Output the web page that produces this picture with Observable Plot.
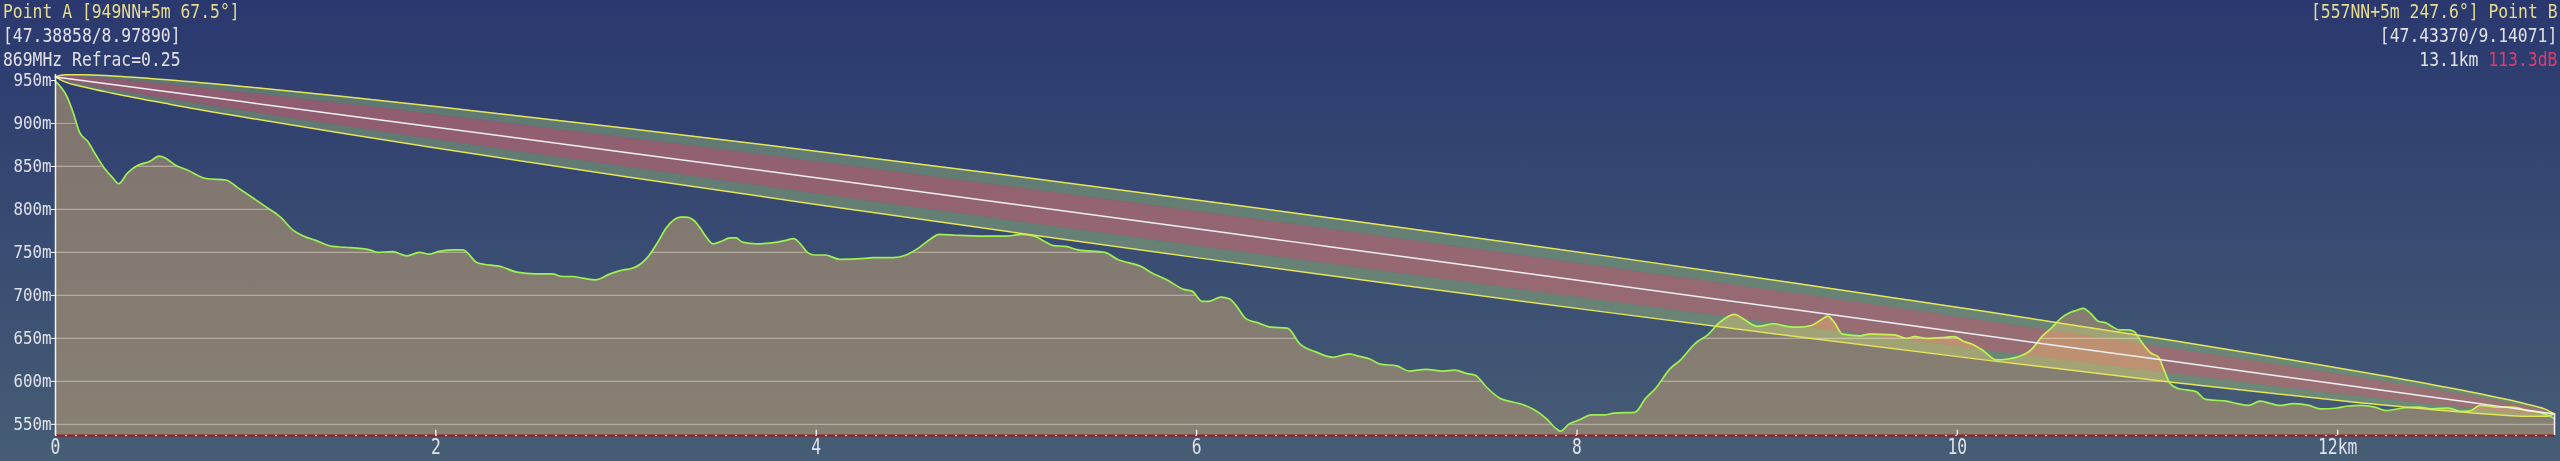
<!DOCTYPE html>
<html><head><meta charset="utf-8">
<script src="https://cdn.jsdelivr.net/npm/d3@7"></script>
<script src="https://cdn.jsdelivr.net/npm/@observablehq/plot@0.6"></script>
<style>
html,body{margin:0;padding:0;}
body{width:2560px;height:461px;overflow:hidden;position:relative;
  background:linear-gradient(to bottom,#2a386f 0px,#465d75 461px);
  font-family:"DejaVu Sans Mono",monospace;}
#chart{position:absolute;left:0;top:0;}
.t{position:absolute;font-size:19.5px;line-height:1;white-space:pre;}
.l{left:3px;transform-origin:left top;transform:scaleX(0.84);}
.r{right:3px;transform-origin:right top;transform:scaleX(0.84);}
.k{color:#e6dc8e}.g{color:#e2e2e6}.p{color:#e23a6a}
</style></head>
<body>
<div id="chart"></div>
<script>
// ---- data ----
const distKm = [0,0.061,0.094,0.126,0.170,0.213,0.257,0.300,0.333,0.377,0.431,0.497,0.545,0.584,0.627,0.693,0.791,0.900,0.954,1.041,1.107,1.183,1.249,1.303,1.368,1.456,1.521,1.652,1.695,1.772,1.848,1.913,1.968,2.011,2.088,2.142,2.218,2.349,2.426,2.524,2.611,2.665,2.720,2.774,2.840,2.916,2.992,3.025,3.112,3.167,3.210,3.287,3.319,3.352,3.371,3.391,3.415,3.458,3.502,3.546,3.578,3.611,3.687,3.796,3.840,3.883,3.916,3.960,3.992,4.047,4.123,4.254,4.298,4.406,4.472,4.537,4.603,4.646,4.733,4.864,4.995,5.082,5.148,5.191,5.246,5.311,5.376,5.518,5.583,5.714,5.758,5.845,5.932,5.976,6.030,6.063,6.128,6.172,6.205,6.259,6.324,6.390,6.477,6.542,6.630,6.717,6.802,6.856,6.911,6.965,7.052,7.118,7.205,7.292,7.357,7.423,7.466,7.521,7.597,7.662,7.728,7.782,7.837,7.891,7.913,7.957,8.011,8.077,8.142,8.196,8.305,8.360,8.414,8.491,8.545,8.621,8.687,8.752,8.829,8.872,8.948,9.036,9.101,9.166,9.232,9.286,9.319,9.352,9.395,9.493,9.537,9.668,9.733,9.777,9.842,9.929,9.984,10.038,10.068,10.128,10.207,10.266,10.325,10.385,10.444,10.494,10.543,10.593,10.632,10.662,10.701,10.741,10.781,10.820,10.850,10.899,10.929,10.968,11.018,11.058,11.087,11.117,11.156,11.206,11.255,11.305,11.354,11.414,11.473,11.532,11.592,11.651,11.691,11.770,11.849,11.908,11.997,12.047,12.126,12.195,12.254,12.343,12.423,12.502,12.581,12.650,12.700,12.749,12.838,12.917,12.996,13.075,13.140];
const elevM = [949,931,912,890,879,863,848,837,830,842,851,856,862,859,852,846,836,834,826,813,803,791,776,769,764,757,756,753,750,751,746,750,748,751,753,753,738,733,727,725,725,722,722,720,718,725,730,731,744,762,778,791,791,788,784,778,770,760,763,767,767,762,760,762,764,766,760,749,747,747,742,743,744,744,747,755,766,771,770,769,769,771,769,764,758,757,753,750,742,733,727,718,707,705,693,693,698,696,689,673,668,663,662,644,634,628,632,629,626,620,618,612,614,612,613,609,607,594,580,576,572,566,557,545,542,550,555,561,561,563,564,580,592,615,625,644,654,669,678,673,664,667,664,663,665,672,676,669,655,653,655,654,650,652,650,651,652,646,644,637,625,626,629,636,652,662,673,680,683,685,679,670,668,663,660,660,658,646,633,628,613,598,592,590,588,579,578,577,574,572,577,574,572,574,572,568,569,571,572,570,566,569,570,568,569,565,566,572,570,570,566,563,557];

// line of sight and first Fresnel zone radius along the path
const fresKm = [0,0.05,0.15,0.3,0.6,1,1.5,2,3,4,5,6,6.57,7.14,8.14,9.14,10.14,11.14,11.64,12.14,12.54,12.84,12.99,13.09,13.14];
const losM   = [954,952.55,949.64,945.28,936.54,924.88,910.28,895.64,866.29,836.82,807.23,777.52,760.53,743.51,713.55,683.48,653.28,622.97,607.77,592.53,580.33,571.17,566.58,563.53,562];
const fresR  = [0,4.15,7.16,10.07,14.07,17.87,21.43,24.21,28.29,31.02,32.72,33.57,33.7,33.57,32.72,31.02,28.29,24.21,21.43,17.87,14.07,10.07,7.16,4.15,0];
const clearance = 0.6;

const yTicks = [550,600,650,700,750,800,850,900,950];
const xTicks = [0,2,4,6,8,10,12];
const xTickLabels = ["0","2","4","6","8","10","12km"];

const headLeft  = ["Point A [949NN+5m 67.5°]","[47.38858/8.97890]","869MHz Refrac=0.25"];
const headRight = ["[557NN+5m 247.6°] Point B","[47.43370/9.14071]","13.1km "];
const lossLabel = "113.3dB";

const yMin = 537, yMax = 957, xMax = 13.14;

// ---- build ----
const terrain = distKm.map((d,i)=>({d, e: elevM[i]}));
const fres = fresKm.map((d,i)=>({d, los: losM[i], r: fresR[i]}));
const xLab = new Map(xTicks.map((t,i)=>[t, xTickLabels[i]]));
const curve = "monotone-x";

const plot = Plot.plot({
  width: 2560, height: 461,
  marginLeft: 55, marginRight: 6, marginTop: 74, marginBottom: 26,
  style: {background: "none", fontFamily: "DejaVu Sans Mono", fontSize: "18px", color: "#dfe2ea", overflow: "visible"},
  x: {domain: [0, xMax]},
  y: {domain: [yMin, yMax]},
  marks: [
    Plot.areaY(terrain, {x: "d", y1: yMin, y2: "e", fill: "url(#terrGrad)", curve}),
    Plot.ruleY(yTicks, {stroke: "#b3ab9f", strokeWidth: 1.2}),
    Plot.areaY(terrain, {x: "d", y1: "e", y2: yMax, fill: "url(#skyGrad)", curve}),
    Plot.line(terrain, {x: "d", y: "e", stroke: "#9cf052", strokeWidth: 1.7, curve}),
    Plot.areaY(fres, {x: "d", y1: d => d.los + clearance * d.r, y2: d => d.los + d.r, fill: "rgb(58,75,5)", mixBlendMode: "screen", curve}),
    Plot.areaY(fres, {x: "d", y1: d => d.los - d.r, y2: d => d.los - clearance * d.r, fill: "rgb(58,75,5)", mixBlendMode: "screen", curve}),
    Plot.areaY(fres, {x: "d", y1: d => d.los - clearance * d.r, y2: d => d.los + clearance * d.r, fill: "rgb(118,38,0)", mixBlendMode: "screen", curve}),
    Plot.line(fres, {x: "d", y: d => d.los + d.r, stroke: "#e4e65a", strokeWidth: 1.5, curve}),
    Plot.line(fres, {x: "d", y: d => d.los - d.r, stroke: "#e4e65a", strokeWidth: 1.5, curve}),
    Plot.line(fres, {x: "d", y: "los", stroke: "#eef0f4", strokeWidth: 1.5, curve}),
    Plot.ruleX([0], {stroke: "#f4f4f4", strokeWidth: 1.5}),
    Plot.ruleX([xMax], {y1: yMin, y2: losM[losM.length-1], stroke: "#f4f4f4", strokeWidth: 1.5}),
    Plot.ruleY([yMin], {stroke: "#a01a1a", strokeWidth: 2}),
    Plot.ruleY([yMin], {stroke: "#ffffff", strokeWidth: 1.2, strokeDasharray: "2 8"}),
    Plot.ruleX(xTicks, {y1: yMin, y2: yMin + 6, stroke: "#ffffff", strokeWidth: 1.2}),
    Plot.axisY({ticks: yTicks, tickFormat: d => d + "m", tickSize: 4, tickPadding: 0, stroke: "#ffffff", fill: "#dfe2ea", label: null}),
    Plot.axisX({ticks: xTicks, tickFormat: d => xLab.get(d), tickSize: 0, tickPadding: 4, fill: "#dfe2ea", label: null})
  ]
});

// gradients used by the fills
const defs = d3.select(plot).insert("defs", ":first-child");
const sky = defs.append("linearGradient").attr("id", "skyGrad").attr("gradientUnits", "userSpaceOnUse")
  .attr("x1", 0).attr("y1", 0).attr("x2", 0).attr("y2", 461);
sky.append("stop").attr("offset", 0).attr("stop-color", "#2a386f");
sky.append("stop").attr("offset", 1).attr("stop-color", "#465d75");
const tg = defs.append("linearGradient").attr("id", "terrGrad").attr("gradientUnits", "userSpaceOnUse")
  .attr("x1", 0).attr("y1", 74).attr("x2", 0).attr("y2", 435);
tg.append("stop").attr("offset", 0).attr("stop-color", "#7f746f");
tg.append("stop").attr("offset", 1).attr("stop-color", "#878073");

// narrow the monospace glyphs like the reference; x labels a little larger
const xLabelSet = new Set(xTickLabels);
d3.select(plot).selectAll("text").each(function() {
  const t = d3.select(this);
  const isX = xLabelSet.has(this.textContent);
  if (isX) t.style("font-size", "20.5px");
  const tr = this.getAttribute("transform");
  if (tr) t.attr("transform", tr + (isX ? " scale(0.8,1)" : " scale(0.88,1)"));
});
document.getElementById("chart").appendChild(plot);

// header texts
const tops = [1.8, 26.2, 49.5];
const body = document.body;
headLeft.forEach((s, i) => {
  const el = document.createElement("div");
  el.className = "t l " + (i === 0 ? "k" : "g");
  el.style.top = tops[i] + "px";
  el.textContent = s;
  body.appendChild(el);
});
headRight.forEach((s, i) => {
  const el = document.createElement("div");
  el.className = "t r " + (i === 0 ? "k" : "g");
  el.style.top = tops[i] + "px";
  el.textContent = s;
  if (i === 2) {
    const sp = document.createElement("span");
    sp.className = "p";
    sp.textContent = lossLabel;
    el.appendChild(sp);
  }
  body.appendChild(el);
});
</script>
</body></html>
